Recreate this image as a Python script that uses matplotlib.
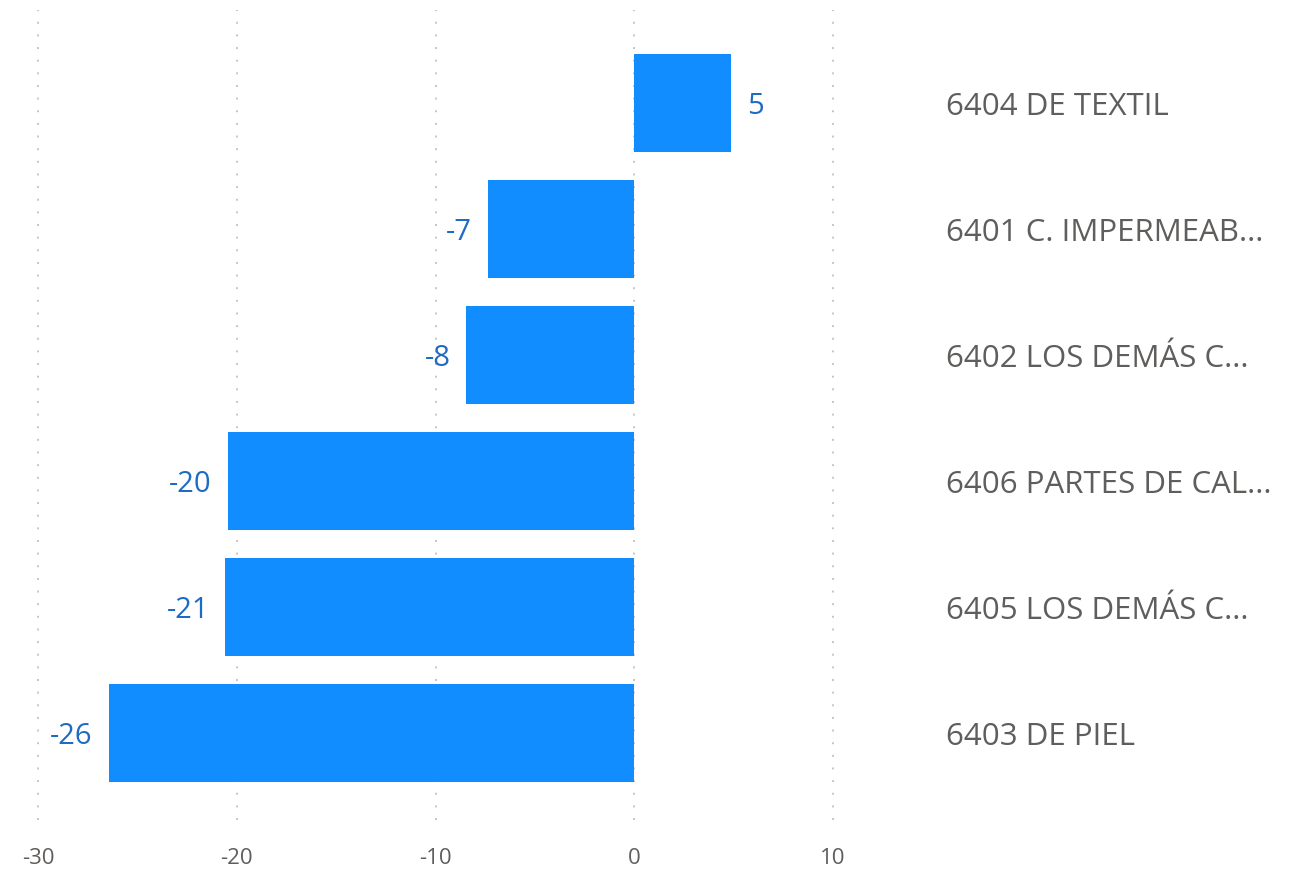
import numpy as np
import matplotlib.pyplot as plt
from matplotlib.transforms import blended_transform_factory

plt.rcParams['font.family'] = ['Open Sans', 'DejaVu Sans']

categories = ["6404 DE TEXTIL", "6401 C. IMPERMEAB...", "6402 LOS DEMÁS C...",
              "6406 PARTES DE CAL...", "6405 LOS DEMÁS C...", "6403 DE PIEL"]
values = [4.85, -7.35, -8.45, -20.45, -20.6, -26.45]
labels = ["5", "-7", "-8", "-20", "-21", "-26"]
ticks = [-30, -20, -10, 0, 10]

bar_color = "#118DFF"
label_color = "#1F6BC4"
text_color = "#605E5C"

fig = plt.figure(figsize=(13.02, 8.73), dpi=100)
ax = fig.add_axes([28 / 1302, 1 - 820 / 873, 815 / 1302, 810 / 873])

y = np.arange(len(categories))
ax.barh(y, values, height=0.78, color=bar_color, zorder=2)

for yi, v, lab in zip(y, values, labels):
    if v >= 0:
        ax.text(v + 0.8, yi, lab, ha="left", va="center_baseline", color=label_color, fontsize=21)
    else:
        ax.text(v - 0.8, yi, lab, ha="right", va="center_baseline", color=label_color, fontsize=21)

ax.set_xlim(-30.5, 10.5)
ax.set_ylim(len(categories) - 0.31, -0.74)
ax.set_xticks(ticks)
ax.set_xticklabels([str(t) for t in ticks])
ax.tick_params(axis="x", length=0, colors=text_color, labelsize=16, pad=20)
ax.set_yticks([])
for s in ax.spines.values():
    s.set_visible(False)
ax.grid(axis="x", color="#C8C6C4", linestyle=(0, (1, 5.5)), linewidth=1.4, zorder=0)

trans = blended_transform_factory(fig.transFigure, ax.transData)
for yi, cat in zip(y, categories):
    ax.text(946 / 1302, yi, cat, transform=trans,
            ha="left", va="center_baseline", color=text_color, fontsize=22.5)

fig.savefig("out.png", dpi=100)
